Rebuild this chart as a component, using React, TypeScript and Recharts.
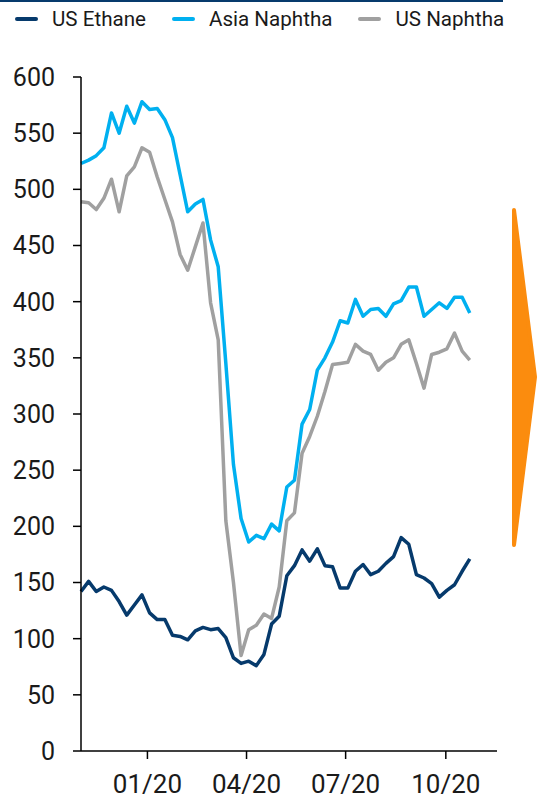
import { LineChart, Line, XAxis, YAxis } from "recharts";

// weekly observations, $/t
const weeks = [
  "2019-11-01", "2019-11-08", "2019-11-15", "2019-11-22", "2019-11-29",
  "2019-12-06", "2019-12-13", "2019-12-20", "2019-12-27",
  "2020-01-03", "2020-01-10", "2020-01-17", "2020-01-24", "2020-01-31",
  "2020-02-07", "2020-02-14", "2020-02-21", "2020-02-28",
  "2020-03-06", "2020-03-13", "2020-03-20", "2020-03-27",
  "2020-04-03", "2020-04-10", "2020-04-17", "2020-04-24",
  "2020-05-01", "2020-05-08", "2020-05-15", "2020-05-22", "2020-05-29",
  "2020-06-05", "2020-06-12", "2020-06-19", "2020-06-26",
  "2020-07-03", "2020-07-10", "2020-07-17", "2020-07-24", "2020-07-31",
  "2020-08-07", "2020-08-14", "2020-08-21", "2020-08-28",
  "2020-09-04", "2020-09-11", "2020-09-18", "2020-09-25",
  "2020-10-02", "2020-10-09", "2020-10-16", "2020-10-23",
];

const usEthane = [
  142, 151, 142, 146, 143, 133, 121, 130, 139, 123, 117, 117, 103, 102, 99, 107,
  110, 108, 109, 101, 83, 78, 80, 76, 86, 113, 120, 156, 165, 179, 169, 180,
  165, 164, 145, 145, 160, 166, 157, 160, 167, 173, 190, 184, 157, 154, 149, 137,
  143, 148, 160, 171,
];

const asiaNaphtha = [
  523, 526, 530, 537, 568, 550, 574, 559, 578, 571, 572, 562, 546, 513, 480, 487,
  491, 455, 431, 345, 255, 207, 186, 192, 189, 202, 196, 235, 241, 291, 304, 339,
  350, 364, 383, 381, 402, 387, 393, 394, 387, 398, 401, 413, 413, 387, 393, 399,
  394, 404, 404, 390,
];

const usNaphtha = [
  489, 488, 482, 492, 509, 480, 512, 520, 537, 533, 511, 491, 471, 442, 428, 449,
  470, 399, 366, 205, 150, 85, 108, 112, 122, 118, 146, 205, 212, 265, 280, 298,
  320, 344, 345, 346, 362, 356, 353, 339, 346, 350, 362, 366, 345, 323, 353, 355,
  358, 372, 356, 348,
];

const seriesNames = ["US Ethane", "Asia Naphtha", "US Naphtha"];
const seriesKeys = ["ethane", "asia", "usn"];
const seriesColors = ["#063a6c", "#00b0f0", "#a0a0a0"];

const xTicks = ["2020-01-01", "2020-04-01", "2020-07-01", "2020-10-01"];
const xDomain = ["2019-11-01", "2020-11-17"];
const yTicks = [0, 50, 100, 150, 200, 250, 300, 350, 400, 450, 500, 550, 600];

const toTime = (s: string) => Date.parse(s + "T00:00:00Z");

const data = weeks.map((w, i) => ({
  t: toTime(w),
  ethane: usEthane[i],
  asia: asiaNaphtha[i],
  usn: usNaphtha[i],
}));

const fmtMonth = (v: number) => {
  const d = new Date(v);
  const mm = String(d.getUTCMonth() + 1).padStart(2, "0");
  const yy = String(d.getUTCFullYear()).slice(2);
  return `${mm}/${yy}`;
};

const font = "Roboto, 'Noto Sans', sans-serif";

export default function App() {
  return (
    <div
      style={{
        position: "fixed",
        left: 0,
        top: 0,
        width: 537,
        height: 806,
        background: "#fff",
        fontFamily: font,
      }}
    >
      <div style={{ position: "absolute", left: 0, top: 0, width: 503, height: 2, background: "#063a6c" }} />
      <div
        style={{
          position: "absolute",
          left: 15,
          top: 5,
          display: "flex",
          gap: 26,
          fontSize: 20.6,
          color: "#1a1a1a",
          lineHeight: "28px",
        }}
      >
        {seriesNames.map((name, i) => (
          <div key={name} style={{ display: "flex", alignItems: "center", gap: 14 }}>
            <span
              style={{
                display: "inline-block",
                width: 23,
                height: 4,
                borderRadius: 2,
                background: seriesColors[i],
              }}
            />
            <span>{name}</span>
          </div>
        ))}
      </div>

      <LineChart
        width={537}
        height={806}
        data={data}
        margin={{ top: 77, right: 40, bottom: 0, left: 0 }}
      >
        <XAxis
          dataKey="t"
          type="number"
          domain={xDomain.map(toTime)}
          ticks={xTicks.map(toTime)}
          tickFormatter={fmtMonth}
          height={55}
          tickSize={8}
          tickMargin={16}
          axisLine={{ stroke: "#000", strokeWidth: 1.5 }}
          tickLine={{ stroke: "#000", strokeWidth: 1.5 }}
          tick={{ fill: "#1a1a1a", fontSize: 26, fontFamily: font }}
        />
        <YAxis
          domain={[0, 600]}
          ticks={yTicks}
          interval={0}
          width={81}
          tickSize={8}
          tickMargin={18}
          axisLine={{ stroke: "#000", strokeWidth: 1.5 }}
          tickLine={{ stroke: "#000", strokeWidth: 1.5 }}
          tick={{ fill: "#1a1a1a", fontSize: 25, fontFamily: font }}
        />
        {seriesKeys.map((k, i) => (
          <Line
            key={k}
            type="linear"
            dataKey={k}
            name={seriesNames[i]}
            stroke={seriesColors[i]}
            strokeWidth={3.5}
            strokeLinejoin="round"
            dot={false}
            isAnimationActive={false}
          />
        ))}
      </LineChart>

      <svg
        width={537}
        height={806}
        style={{ position: "absolute", left: 0, top: 0, pointerEvents: "none" }}
      >
        <polygon
          points="514,210 535,377 514,545"
          fill="#fb8c0e"
          stroke="#fb8c0e"
          strokeWidth={4}
          strokeLinejoin="round"
        />
      </svg>
    </div>
  );
}
